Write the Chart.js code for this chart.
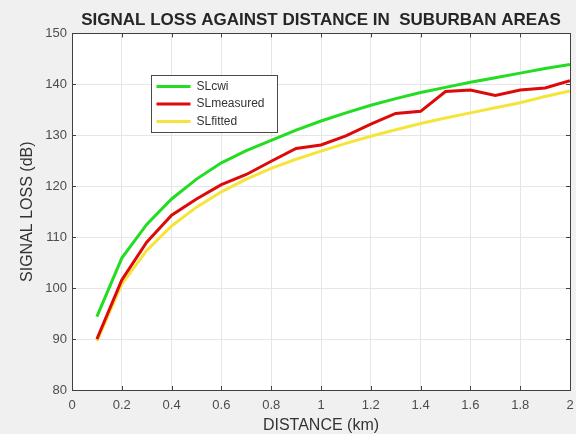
<!DOCTYPE html>
<html>
<head>
<meta charset="utf-8">
<script src="https://cdn.jsdelivr.net/npm/chart.js@4/dist/chart.umd.min.js"></script>
<style>
  html, body { margin: 0; padding: 0; background: #f0f0f0; }
  canvas { display: block; }
</style>
</head>
<body>
<canvas id="lossChart" width="576" height="434"></canvas>
<script>
// Signal loss vs distance (suburban)
const distance = [0.1, 0.2, 0.3, 0.4, 0.5, 0.6, 0.7, 0.8, 0.9, 1.0,
                  1.1, 1.2, 1.3, 1.4, 1.5, 1.6, 1.7, 1.8, 1.9, 2.0];
const slCwi = [94.4, 105.9, 112.5, 117.5, 121.4, 124.6, 127.0, 129.0, 131.0, 132.8,
               134.4, 135.9, 137.2, 138.4, 139.4, 140.4, 141.3, 142.2, 143.1, 143.9];
const slMeasured = [90.0, 101.6, 109.0, 114.3, 117.5, 120.3, 122.3, 124.9, 127.4, 128.1,
                    129.9, 132.2, 134.3, 134.7, 138.6, 138.9, 137.8, 138.9, 139.3, 140.7];
const slFitted = [89.6, 100.8, 107.4, 112.2, 115.9, 118.9, 121.4, 123.5, 125.3, 126.9,
                  128.4, 129.8, 131.1, 132.3, 133.4, 134.4, 135.4, 136.4, 137.6, 138.7];
const seriesNames = ['SLcwi', 'SLmeasured', 'SLfitted'];
const xTicks = [0, 0.2, 0.4, 0.6, 0.8, 1, 1.2, 1.4, 1.6, 1.8, 2];
const yTicks = [80, 90, 100, 110, 120, 130, 140, 150];

function toPoints(values) {
    return values.map((v, i) => ({ x: distance[i], y: v }));
}

// grey figure, white axes, MATLAB-style box + inward ticks
const matlabBox = {
    id: 'matlabBox',
    beforeDraw(chart) {
        const { ctx, chartArea: a } = chart;
        ctx.save();
        ctx.fillStyle = '#f0f0f0';
        ctx.fillRect(0, 0, chart.width, chart.height);
        ctx.fillStyle = '#ffffff';
        ctx.fillRect(a.left, a.top, a.right - a.left, a.bottom - a.top);
        ctx.restore();
    },
    afterLayout(chart) {
        const lg = chart.legend;
        if (!lg) return;
        lg.left = 151;
        lg.top = 75;
        lg.right = lg.left + 126;
        lg.bottom = lg.top + 90;
        if (!lg._boxed) {
            lg._boxed = true;
            const origDraw = lg.draw;
            lg.draw = function(area) {
                const c = this.ctx;
                c.save();
                c.fillStyle = '#ffffff';
                c.fillRect(this.left, this.top, 126, 57);
                c.strokeStyle = '#4a4a4a';
                c.lineWidth = 1;
                c.strokeRect(this.left + 0.5, this.top + 0.5, 126, 57);
                c.restore();
                origDraw.call(this, area);
            };
        }
    },
    afterDraw(chart) {
        const { ctx, chartArea: a, scales } = chart;
        ctx.save();
        ctx.strokeStyle = '#404040';
        ctx.lineWidth = 1;
        ctx.strokeRect(Math.round(a.left) + 0.5, Math.round(a.top) + 0.5,
                       Math.round(a.right - a.left), Math.round(a.bottom - a.top));
        ctx.beginPath();
        xTicks.forEach(t => {
            const px = Math.round(scales.x.getPixelForValue(t)) + 0.5;
            ctx.moveTo(px, a.bottom); ctx.lineTo(px, a.bottom - 4);
            ctx.moveTo(px, a.top); ctx.lineTo(px, a.top + 4);
        });
        yTicks.forEach(t => {
            const py = Math.round(scales.y.getPixelForValue(t)) + 0.5;
            ctx.moveTo(a.left, py); ctx.lineTo(a.left + 4, py);
            ctx.moveTo(a.right, py); ctx.lineTo(a.right - 4, py);
        });
        ctx.stroke();
        ctx.restore();
    }
};

const ctx = document.getElementById('lossChart');

new Chart(ctx, {
    type: 'line',
    data: {
        datasets: [
            {
                label: seriesNames[0],
                data: toPoints(slCwi),
                borderColor: '#22dd22',
                backgroundColor: '#22dd22',
                borderWidth: 3,
                pointRadius: 0,
                tension: 0
            },
            {
                label: seriesNames[1],
                data: toPoints(slMeasured),
                borderColor: '#dd0a0a',
                backgroundColor: '#dd0a0a',
                borderWidth: 3,
                pointRadius: 0,
                tension: 0
            },
            {
                label: seriesNames[2],
                data: toPoints(slFitted),
                borderColor: '#f4e53c',
                backgroundColor: '#f4e53c',
                borderWidth: 3,
                pointRadius: 0,
                tension: 0
            }
        ]
    },
    options: {
        responsive: false,
        animation: false,
        layout: {
            padding: { left: 0, right: 6, top: 0, bottom: 0 }
        },
        plugins: {
            title: {
                display: true,
                text: 'SIGNAL LOSS AGAINST DISTANCE IN  SUBURBAN AREAS',
                fullSize: false,
                color: '#262626',
                font: { family: 'Liberation Sans, Arial', size: 17, weight: 'bold', lineHeight: 1.2 },
                padding: { top: 10, bottom: 3 }
            },
            legend: {
                position: 'chartArea',
                align: 'start',
                labels: {
                    usePointStyle: true,
                    pointStyle: 'line',
                    pointStyleWidth: 34,
                    padding: 5.5,
                    color: '#333333',
                    font: { family: 'Liberation Sans, Arial', size: 12 }
                }
            },
            tooltip: { enabled: false }
        },
        scales: {
            x: {
                type: 'linear',
                min: 0,
                max: 2,
                afterFit: function(scale) {
                    scale.height = 44;
                    scale.paddingLeft = 0;
                    scale.paddingRight = 0;
                },
                afterBuildTicks: function(scale) {
                    scale.ticks = xTicks.map(v => ({ value: v }));
                },
                ticks: {
                    autoSkip: false,
                    maxRotation: 0,
                    padding: 8,
                    color: '#4d4d4d',
                    font: { family: 'Liberation Sans, Arial', size: 13 },
                    callback: function(value) { return String(value); }
                },
                grid: { color: '#e6e6e6', drawTicks: false },
                border: { color: '#404040' },
                title: {
                    display: true,
                    text: 'DISTANCE (km)',
                    color: '#333333',
                    font: { family: 'Liberation Sans, Arial', size: 16, lineHeight: 1 },
                    padding: { top: 0, bottom: 0 }
                }
            },
            y: {
                min: 80,
                max: 150,
                afterFit: function(scale) { scale.width = 72; },
                afterBuildTicks: function(scale) {
                    scale.ticks = yTicks.map(v => ({ value: v }));
                },
                ticks: {
                    padding: 5,
                    color: '#4d4d4d',
                    font: { family: 'Liberation Sans, Arial', size: 13 }
                },
                grid: { color: '#e6e6e6', drawTicks: false },
                border: { color: '#404040' },
                title: {
                    display: true,
                    text: 'SIGNAL LOSS (dB)',
                    color: '#333333',
                    font: { family: 'Liberation Sans, Arial', size: 16, lineHeight: 1 },
                    padding: { top: 20, bottom: 0 }
                }
            }
        }
    },
    plugins: [matlabBox]
});
</script>
</body>
</html>
